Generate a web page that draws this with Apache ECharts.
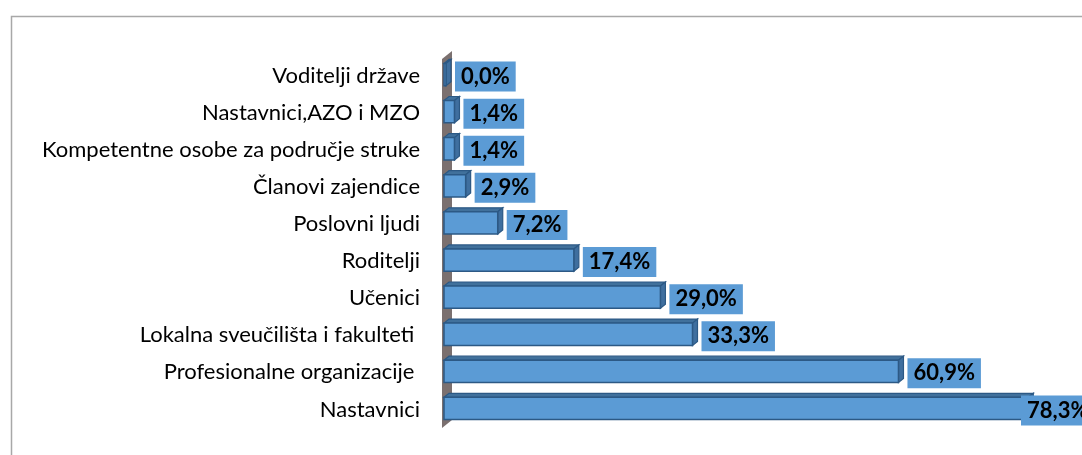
<!DOCTYPE html>
<html>
<head>
<meta charset="utf-8">
<script src="https://cdn.jsdelivr.net/npm/echarts@6/dist/echarts.min.js"></script>
<style>
  html, body { margin: 0; padding: 0; background: #fff; }
  #main { width: 1082px; height: 455px; }
</style>
</head>
<body>
<div id="main"></div>
<script>
// kategorije odozgo prema dolje
var categories = [
  'Voditelji države',
  'Nastavnici,AZO i MZO',
  'Kompetentne osobe za područje struke',
  'Članovi zajendice',
  'Poslovni ljudi',
  'Roditelji',
  'Učenici',
  'Lokalna sveučilišta i fakulteti ',
  'Profesionalne organizacije ',
  'Nastavnici'
];
var values = [0.0, 1.4, 1.4, 2.9, 7.2, 17.4, 29.0, 33.3, 60.9, 78.3];

var chart = echarts.init(document.getElementById('main'));

function fmt(v) {
  return v.toFixed(1).replace('.', ',') + '%';
}

// 3D stupac: prednja ploha, gornja ploha, bočna ploha + oznaka
function renderBar(params, api) {
  var v = api.value(0);
  var idx = api.value(1);
  var p0 = api.coord([0, idx]);
  var p1 = api.coord([v, idx]);
  var band = api.size([0, 1])[1];
  var h = band * 0.6;
  var dx = 5, dy = 4;
  var x0 = p0[0];
  var x1 = Math.max(p1[0], x0 + 2);
  var yTop = p0[1] - h / 2 - 1;
  var yBot = yTop + h;
  var cs = params.coordSys;
  var lx = Math.min(x1 + 9, cs.x + cs.width - 20);
  return {
    type: 'group',
    children: [
      {
        type: 'polygon',
        shape: { points: [[x0, yTop], [x0 + dx, yTop - dy], [x1 + dx, yTop - dy], [x1, yTop]] },
        style: { fill: '#41719c', stroke: '#2c5985', lineWidth: 1.2 }
      },
      {
        type: 'polygon',
        shape: { points: [[x1, yTop], [x1 + dx, yTop - dy], [x1 + dx, yBot - dy], [x1, yBot]] },
        style: { fill: '#3f6f9f', stroke: '#2c5985', lineWidth: 1.2 }
      },
      {
        type: 'rect',
        shape: { x: x0, y: yTop, width: x1 - x0, height: h },
        style: { fill: '#5b9bd5', stroke: '#2c5985', lineWidth: 1.5 }
      },
      {
        type: 'text',
        x: lx,
        y: p0[1] + 1,
        style: {
          text: fmt(v),
          font: 'bold 22px Lato',
          fill: '#000',
          align: 'left',
          verticalAlign: 'middle',
          backgroundColor: '#5b9bd5',
          padding: [4, 6, 4, 6]
        }
      }
    ]
  };
}

// siva "zidna" ploha uz os
function renderWall(params, api) {
  var top = api.coord([0, 0]);
  var bot = api.coord([0, categories.length - 1]);
  var band = api.size([0, 1])[1];
  var x = top[0] - 2;
  var y1 = top[1] - band / 2 + 2;
  var y2 = bot[1] + band / 2;
  var w = 10, d = 8;
  return {
    type: 'polygon',
    shape: { points: [[x, y1], [x + w, y1 - d], [x + w, y2 - d], [x, y2]] },
    style: { fill: '#7b706f' },
    z2: 0
  };
}

var option = {
  animation: false,
  graphic: [{
    type: 'rect',
    left: 9, top: 14,
    shape: { width: 1200, height: 600 },
    style: { fill: 'none', stroke: '#a8a8a8', lineWidth: 1.5 },
    silent: true
  }],
  grid: { left: 444, right: 41, top: 57, bottom: 27 },
  xAxis: {
    type: 'value', min: 0, max: 80, show: false
  },
  yAxis: {
    type: 'category',
    inverse: true,
    data: categories,
    axisLine: { show: false },
    axisTick: { show: false },
    splitLine: { show: false },
    axisLabel: {
      fontFamily: 'Lato',
      fontSize: 22,
      color: '#000',
      margin: 24
    }
  },
  series: [
    {
      type: 'custom',
      renderItem: renderWall,
      data: [[0, 0]],
      z: 1,
      silent: true
    },
    {
      type: 'custom',
      renderItem: renderBar,
      encode: { x: 0, y: 1 },
      data: values.map(function (v, i) { return [v, i]; }),
      z: 2
    }
  ]
};

chart.setOption(option);
</script>
</body>
</html>
